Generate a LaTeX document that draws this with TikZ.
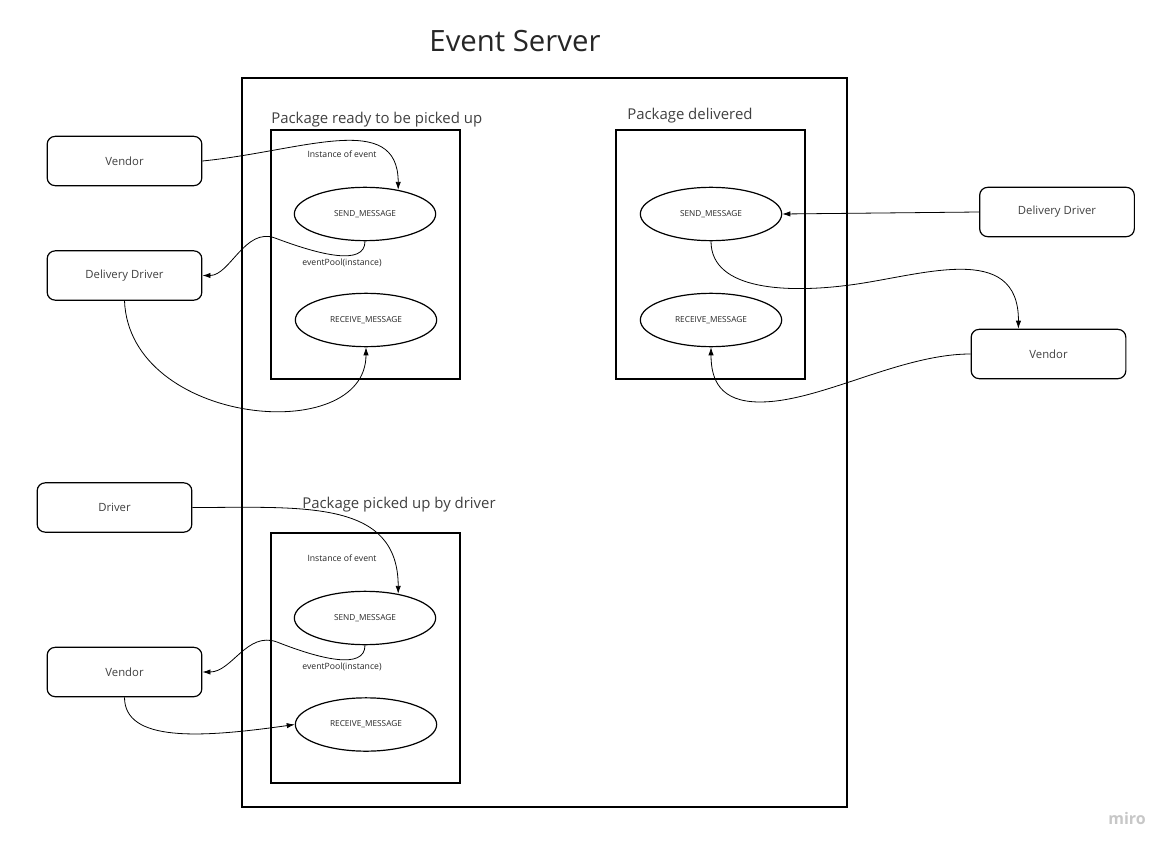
\documentclass[tikz,border=0pt]{standalone}
\usepackage{fontspec}
\setmainfont{Open Sans}
\usepackage{xcolor}
\usepackage{tikz}
\usetikzlibrary{shapes.geometric,arrows.meta}
\tikzstyle{actor} = [rectangle, rounded corners=6pt, minimum width=116pt, minimum height=37pt, text centered, draw=black, line width=0.9pt, text=black!75, font=\fontsize{8.5}{10}\selectfont]
\tikzstyle{message} = [ellipse, minimum width=106pt, minimum height=40pt, inner sep=0pt, draw=black, line width=0.9pt, text=black!85, font=\fontsize{6.2}{7}\selectfont]
\tikzstyle{note} = [inner sep=1pt, text=black!85, font=\fontsize{6.5}{8}\selectfont]
\tikzstyle{heading} = [anchor=base west, inner sep=0pt, text=black!75, font=\fontsize{11.2}{13}\selectfont]
\tikzstyle{frame} = [draw=black, line width=1pt]
\tikzstyle{arrow} = [line width=0.6pt, -{Latex[length=6pt,width=4pt]}]

\begin{document}
\begin{tikzpicture}[x=0.75pt, y=-0.75pt]

	\useasboundingbox (0,0) rectangle (1173,852);

	\node (title) [anchor=base, inner sep=0pt, text=black!85, font=\fontsize{22}{26}\selectfont] at (515,52) {Event Server};
	\draw [frame] (242,78) rectangle (847,807);

	% package ready to be picked up
	\draw [frame] (271,130) rectangle (460,379);
	\node (headA) [heading] at (271,124) {Package ready to be picked up};
	\node (sendA) [message] at (365,214) {SEND\_MESSAGE};
	\node (recvA) [message] at (366,320) {RECEIVE\_MESSAGE};
	\node (vendorA) [actor] at (124.5,161) {Vendor};
	\node (driverA) [actor] at (124.5,275.5) {Delivery Driver};
	\node (instA) [note] at (342,154) {Instance of event};
	\node (poolA) [note] at (342,263) {eventPool(instance)};

	\draw [arrow] (vendorA.east) .. controls +(100,-10) and +(0,-80) .. (sendA.36);
	\draw [arrow] (sendA.south) .. controls +(0,25) and (320,255) .. (275,238) .. controls (245,227) and (230,275.5) .. (driverA.east);
	\draw [arrow] (driverA.south) .. controls +(5,125) and +(0,100) .. (recvA.south);

	% package delivered
	\draw [frame] (616,130) rectangle (805,379);
	\node (headB) [heading] at (627,120) {Package delivered};
	\node (sendB) [message] at (711,214) {SEND\_MESSAGE};
	\node (recvB) [message] at (711,320) {RECEIVE\_MESSAGE};
	\node (driverB) [actor] at (1057,212) {Delivery Driver};
	\node (vendorB) [actor] at (1048.5,354) {Vendor};

	\draw [arrow] (driverB.west) -- (sendB.east);
	\draw [arrow] (sendB.south) .. controls +(0,50) and (790,293) .. (850,285) .. controls (920,276) and (1019,240) .. (vendorB.140);
	\draw [arrow] (vendorB.west) .. controls (900,354) and (820,402) .. (760,402) .. controls (720,402) and (711,380) .. (recvB.south);

	% package picked up by driver
	\draw [frame] (271,533) rectangle (460,783);
	\node (headC) [heading] at (302,508) {Package picked up by driver};
	\node (sendC) [message] at (365,618) {SEND\_MESSAGE};
	\node (recvC) [message] at (366,724.5) {RECEIVE\_MESSAGE};
	\node (driverC) [actor] at (114.5,507.5) {Driver};
	\node (vendorC) [actor] at (124.5,672) {Vendor};
	\node (instC) [note] at (342,558) {Instance of event};
	\node (poolC) [note] at (342,667) {eventPool(instance)};

	\draw [arrow] (driverC.east) .. controls +(110,0) and +(0,-95) .. (sendC.36);
	\draw [arrow] (sendC.south) .. controls +(0,25) and (320,659) .. (277,642) .. controls (247,631) and (232,672) .. (vendorC.east);
	\draw [arrow] (vendorC.south) .. controls +(0,45) and (200,738) .. (recvC.west);

	\node (miro) [text=black!22, font=\bfseries\fontsize{12}{14}\selectfont] at (1127,818) {miro};

\end{tikzpicture}
\end{document}
